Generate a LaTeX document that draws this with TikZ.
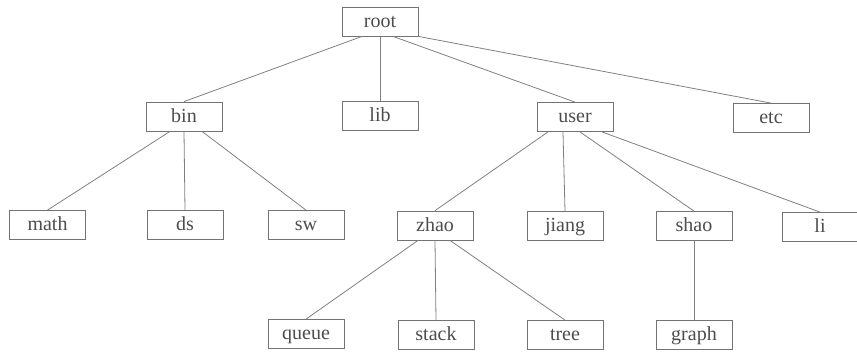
\documentclass[tikz,border=0pt]{standalone}
\usepackage{fontspec}
\setmainfont{Liberation Serif}

\tikzset{
    dirbox/.style={draw=black!55, text=black!70, minimum width=76pt, minimum height=29pt,
        inner sep=0pt, font=\fontsize{20}{24}\selectfont, text height=14pt, text depth=3pt},
    link/.style={draw=black!50}
}

\begin{document}
\begin{tikzpicture}[x=1pt, y=-1pt, line width=0.8pt]
    \useasboundingbox (0, 0) rectangle (857, 351);

    \node [dirbox] (root) at (380, 21.5) {root};

    \node [dirbox] (bin)  at (184, 116.5) {bin};
    \node [dirbox] (lib)  at (380, 116) {lib};
    \node [dirbox] (user) at (575, 117) {user};
    \node [dirbox] (etc)  at (771, 118) {etc};

    \node [dirbox] (math)  at (47.5, 225) {math};
    \node [dirbox] (ds)    at (185, 225) {ds};
    \node [dirbox] (sw)    at (306, 225) {sw};
    \node [dirbox] (zhao)  at (435, 225.5) {zhao};
    \node [dirbox] (jiang) at (565, 226) {jiang};
    \node [dirbox] (shao)  at (694, 226) {shao};
    \node [dirbox] (li)    at (820, 227) {li};

    \node [dirbox] (queue) at (306, 334) {queue};
    \node [dirbox] (stack) at (436, 335) {stack};
    \node [dirbox] (tree)  at (565, 335) {tree};
    \node [dirbox] (graph) at (694, 335) {graph};

    % root
    \draw [link] ([xshift=-18pt]root.south) -- (bin.north);
    \draw [link] (root.south) -- (lib.north);
    \draw [link] ([xshift=13pt]root.south) -- (user.north);
    \draw [link] (root.south east) -- (etc.north);

    % bin
    \draw [link] ([xshift=-14pt]bin.south) -- (math.north);
    \draw [link] (bin.south) -- (ds.north);
    \draw [link] ([xshift=18pt]bin.south) -- (sw.north);

    % user
    \draw [link] ([xshift=-27pt]user.south) -- (zhao.north);
    \draw [link] ([xshift=-12pt]user.south) -- (jiang.north);
    \draw [link] ([xshift=5pt]user.south) -- (shao.north);
    \draw [link] ([xshift=27pt]user.south) -- (li.north);

    % zhao, shao
    \draw [link] ([xshift=-17pt]zhao.south) -- (queue.north);
    \draw [link] (zhao.south) -- (stack.north);
    \draw [link] ([xshift=15pt]zhao.south) -- (tree.north);
    \draw [link] (shao.south) -- (graph.north);
\end{tikzpicture}
\end{document}
